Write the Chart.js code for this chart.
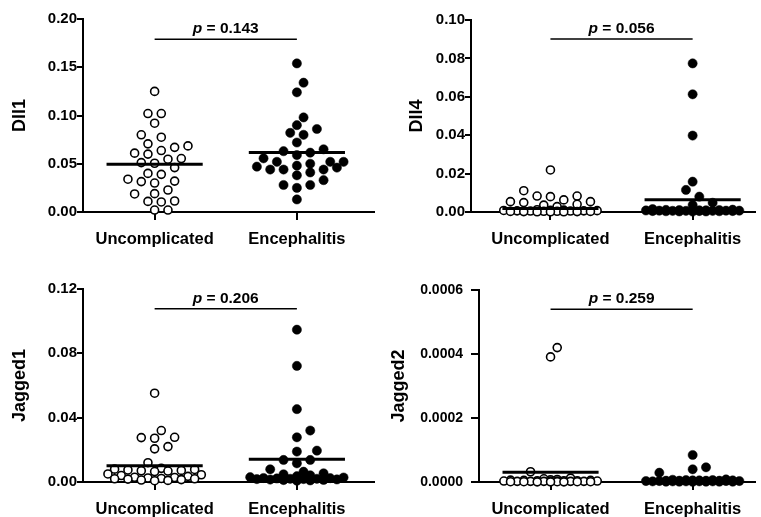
<!DOCTYPE html>
<html><head><meta charset="utf-8">
<script src="https://cdn.jsdelivr.net/npm/chart.js@4.4.0/dist/chart.umd.min.js"></script>
<style>
html,body{margin:0;padding:0;background:#fff;width:761px;height:517px;overflow:hidden}
canvas{position:absolute}
</style></head><body>
<canvas id="c0" width="380" height="258" style="left:0;top:0"></canvas>
<canvas id="c1" width="381" height="258" style="left:380px;top:0"></canvas>
<canvas id="c2" width="380" height="259" style="left:0;top:258px"></canvas>
<canvas id="c3" width="381" height="259" style="left:380px;top:258px"></canvas>
<script>
// ---------------- data ----------------
const groups = ["Uncomplicated", "Encephalitis"];
const yTitles = ["Dll1", "Dll4", "Jagged1", "Jagged2"];
const pValues = ["0.143", "0.056", "0.206", "0.259"];

const dll1Uncomplicated = [0.125,0.102,0.102,0.092,0.080,0.0775,0.0706,0.067,0.0685,0.060,0.061,0.0637,0.0547,0.0554,0.0505,0.0512,0.046,0.039,0.040,0.030,0.032,0.034,0.0315,0.019,0.0187,0.0228,0.0114,0.0104,0.011,0.002,0.002];
const dll1Encephalitis = [0.154,0.134,0.124,0.098,0.090,0.086,0.082,0.080,0.072,0.065,0.063,0.0615,0.059,0.0556,0.052,0.052,0.052,0.050,0.048,0.047,0.046,0.044,0.044,0.044,0.041,0.038,0.033,0.028,0.028,0.025,0.013];
const dll1Means = [0.0494, 0.0616];

const dll4Uncomplicated = [0.0219,0.0111,0.0083,0.0080,0.0083,0.0063,0.0054,0.0054,0.0049,0.0040,0.0036,0.0028,0.0012,0.0010,0.0009,0.0008,0.0007,0.0006,0.0006,0.0005,0.0005,0.0004,0.0004,0.0003,0.0003,0.0002,0.0002,0.0001,0.0001,0.0001];
const dll4Encephalitis = [0.0774,0.0613,0.0398,0.0158,0.0115,0.0080,0.0048,0.0036,0.0015,0.0012,0.0011,0.0010,0.0010,0.0009,0.0009,0.0008,0.0008,0.0007,0.0007,0.0007,0.0006,0.0006,0.0006,0.0005,0.0005,0.0005,0.0004,0.0004,0.0003,0.0003,0.0002];
const dll4Means = [0.0018, 0.0064];

const jagged1Uncomplicated = [0.0552,0.032,0.0278,0.0276,0.0272,0.022,0.0206,0.012,0.0085,0.008,0.0078,0.0075,0.0072,0.007,0.0068,0.0065,0.005,0.0045,0.004,0.0035,0.003,0.0028,0.0025,0.0022,0.002,0.002,0.0018,0.0015,0.0012,0.001,0.0008];
const jagged1Encephalitis = [0.0947,0.0722,0.0453,0.032,0.0278,0.0195,0.0189,0.0137,0.0137,0.0116,0.0079,0.0064,0.0054,0.0048,0.0042,0.0036,0.003,0.0028,0.0025,0.0024,0.0022,0.002,0.002,0.0018,0.0018,0.0016,0.0015,0.0013,0.0012,0.001,0.0008];
const jagged1Means = [0.0101, 0.0142];

const jagged2Uncomplicated = [0.00042,0.000391,0.000032,0.000012,0.00001,0.000008,0.000007,0.000006,0.000005,0.000005,0.000004,0.000004,0.000004,0.000003,0.000003,0.000003,0.000003,0.000002,0.000002,0.000002,0.000002,0.000002,0.000001,0.000001,0.000001,0.000001,0.000001,0.0000005,0.0000005,0.0000005];
const jagged2Encephalitis = [0.0000844,0.000046,0.0000397,0.000029,0.000008,0.000007,0.000006,0.000006,0.000005,0.000005,0.000005,0.000004,0.000004,0.000004,0.000004,0.000003,0.000003,0.000003,0.000003,0.000003,0.000002,0.000002,0.000002,0.000002,0.000002,0.000001,0.000001,0.000001,0.000001,0.000001,0.0000005];
const jagged2Means = [0.0000305, 0.0000063];

const yTicks = [
  [0, 0.05, 0.10, 0.15, 0.20],
  [0, 0.02, 0.04, 0.06, 0.08, 0.10],
  [0, 0.04, 0.08, 0.12],
  [0, 0.0002, 0.0004, 0.0006]
];
const yTickLabels = [
  ["0.00","0.05","0.10","0.15","0.20"],
  ["0.00","0.02","0.04","0.06","0.08","0.10"],
  ["0.00","0.04","0.08","0.12"],
  ["0.0000","0.0002","0.0004","0.0006"]
];

// ---------------- layout (positions / sizes / styles) ----------------
const FONT = "'Liberation Sans', Arial, sans-serif";
const panels = [
  {id:"c0", unc:dll1Uncomplicated, enc:dll1Encephalitis, means:dll1Means, w:380, h:258, axisLeft:83, top:19, bottom:212, cat0:156, bracket:0.179, titlePad:9, tickSize:15, tickPad:0, tickLen:6},
  {id:"c1", unc:dll4Uncomplicated, enc:dll4Encephalitis, means:dll4Means, w:381, h:258, axisLeft:91, top:20, bottom:212, cat0:172, bracket:0.0901, titlePad:26, tickSize:15, tickPad:0, tickLen:6},
  {id:"c2", unc:jagged1Uncomplicated, enc:jagged1Encephalitis, means:jagged1Means, w:380, h:259, axisLeft:83, top:31, bottom:224, cat0:156, bracket:0.1077, titlePad:9, tickSize:15, tickPad:0, tickLen:6},
  {id:"c3", unc:jagged2Uncomplicated, enc:jagged2Encephalitis, means:jagged2Means, w:381, h:259, axisLeft:99, top:32, bottom:224, cat0:172, bracket:0.00054, titlePad:8, tickSize:14, tickPad:8, tickLen:8}
];
const UNIT_PX = 145;       // pixel distance between the two groups
const MEAN_HALF = 0.338;   // half-width of mean bar in group units

Chart.defaults.font.family = FONT;
Chart.defaults.color = "#000";

const pTextPlugin = {
  id: "ptext",
  afterDatasetsDraw(chart) {
    const o = chart.options.plugins.ptext;
    if (!o) return;
    const xs = chart.scales.x, ys = chart.scales.y, ctx = chart.ctx;
    const cx = (xs.getPixelForValue(0) + xs.getPixelForValue(1)) / 2;
    const y = ys.getPixelForValue(o.level) - 6;
    ctx.save();
    ctx.fillStyle = "#000";
    ctx.textBaseline = "alphabetic";
    ctx.textAlign = "left";
    const f1 = "italic bold 15.5px " + FONT, f2 = "bold 15.5px " + FONT;
    ctx.font = f1; const w1 = ctx.measureText("p").width;
    const rest = " = " + o.text;
    ctx.font = f2; const w2 = ctx.measureText(rest).width;
    let x = cx - (w1 + w2) / 2;
    ctx.font = f1; ctx.fillText("p", x, y);
    ctx.font = f2; ctx.fillText(rest, x + w1, y);
    ctx.restore();
  }
};

function swarm(chart) {
  const xs = chart.scales.x, ys = chart.scales.y;
  const step = 6.67, D = 10, K = 7;
  [0, 1].forEach(g => {
    const ds = chart.data.datasets[g];
    const vals = ds.data.map(p => p.y);
    const cx = xs.getPixelForValue(g);
    const order = vals.map((v, i) => i).sort((a, b) => vals[a] - vals[b]);
    const placed = [];
    order.forEach(i => {
      const py = ys.getPixelForValue(vals[i]);
      let best = 0, bestD = -1;
      for (let k = 0; k <= 2 * K; k++) {
        const m = k === 0 ? 0 : (k % 2 ? (k + 1) / 2 : -k / 2);
        const ox = m * step;
        let minD = Infinity;
        for (const p of placed) {
          const d = Math.hypot(p.x - ox, p.y - py);
          if (d < minD) minD = d;
        }
        if (minD >= D) { best = ox; bestD = minD; break; }
        if (minD > bestD + 0.5) { bestD = minD; best = ox; }
      }
      placed.push({x: best, y: py});
      ds.data[i].x = xs.getValueForPixel(cx + best);
    });
  });
  chart.update("none");
}

panels.forEach((P, pi) => {
  const chartW = P.w - P.axisLeft;
  const xMin = -(P.cat0 - P.axisLeft) / UNIT_PX;
  const xMax = xMin + chartW / UNIT_PX;
  const cfg = {
    type: "scatter",
    data: {
      datasets: [
        {data: P.unc.map(v => ({x: 0, y: v})), pointRadius: 4, pointHoverRadius: 4,
         pointBackgroundColor: "#fff", pointBorderColor: "#000", pointBorderWidth: 1.6, clip: false},
        {data: P.enc.map(v => ({x: 1, y: v})), pointRadius: 4.6, pointHoverRadius: 4.6,
         pointBackgroundColor: "#000", pointBorderColor: "#000", pointBorderWidth: 0.5, clip: false},
        {data: [{x: -MEAN_HALF, y: P.means[0]}, {x: MEAN_HALF, y: P.means[0]}], showLine: true,
         borderColor: "#000", borderWidth: 3, pointRadius: 0, order: -1, clip: false},
        {data: [{x: 1 - MEAN_HALF, y: P.means[1]}, {x: 1 + MEAN_HALF, y: P.means[1]}], showLine: true,
         borderColor: "#000", borderWidth: 3, pointRadius: 0, order: -1, clip: false},
        {data: [{x: 0, y: P.bracket}, {x: 1, y: P.bracket}], showLine: true,
         borderColor: "#000", borderWidth: 1.5, pointRadius: 0, order: -1, clip: false}
      ]
    },
    options: {
      responsive: false, animation: false, devicePixelRatio: 1,
      layout: {padding: {top: P.top, right: 0, bottom: 0, left: 0}},
      plugins: {legend: {display: false}, tooltip: {enabled: false},
                ptext: {text: pValues[pi], level: P.bracket}},
      scales: {
        x: {
          type: "linear", min: xMin, max: xMax,
          afterBuildTicks: s => { s.ticks = [{value: 0}, {value: 1}]; },
          afterFit: s => { s.height = P.h - P.bottom; },
          ticks: {autoSkip: false, maxRotation: 0, padding: 10,
                  font: {size: 16.5, weight: "bold"}, color: "#000",
                  callback: (v, i) => groups[i]},
          grid: {drawOnChartArea: false, drawTicks: true, tickLength: 8, color: "#000", lineWidth: 2},
          border: {display: true, color: "#000", width: 2}
        },
        y: {
          type: "linear", min: yTicks[pi][0], max: yTicks[pi][yTicks[pi].length - 1],
          afterBuildTicks: s => { s.ticks = yTicks[pi].map(v => ({value: v})); },
          afterFit: s => { s.width = P.axisLeft; },
          ticks: {padding: P.tickPad, font: {size: P.tickSize, weight: "bold"}, color: "#000",
                  callback: (v, i) => yTickLabels[pi][i]},
          grid: {drawOnChartArea: false, drawTicks: true, tickLength: P.tickLen, color: "#000", lineWidth: 2},
          border: {display: true, color: "#000", width: 2},
          title: {display: true, text: yTitles[pi], color: "#000",
                  font: {size: 18, weight: "bold"}, padding: {top: P.titlePad, bottom: 0}}
        }
      }
    },
    plugins: [pTextPlugin]
  };
  const chart = new Chart(document.getElementById(P.id), cfg);
  swarm(chart);
});
</script>
</body></html>
